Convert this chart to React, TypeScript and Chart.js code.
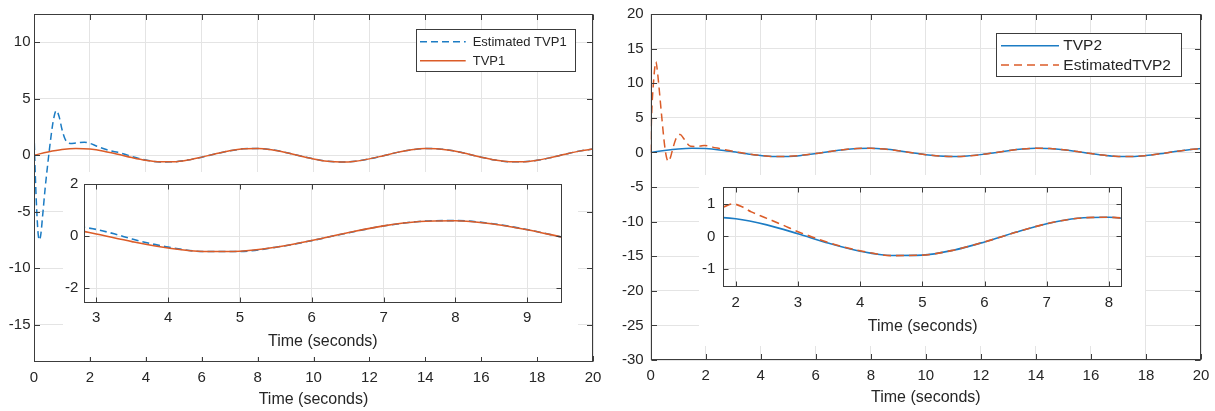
import React, { useEffect, useRef } from 'react';
import { Chart, registerables } from 'chart.js';

Chart.register(...registerables);

// ---------------- data ----------------
const tvpTime = [0, 0.5, 1, 1.5, 2, 2.5, 3, 3.5, 4, 4.5, 5, 5.5, 6, 6.5, 7, 7.5, 8, 8.5, 9, 9.5, 10, 10.5, 11, 11.5, 12, 12.5, 13, 13.5, 14, 14.5, 15, 15.5, 16, 16.5, 17, 17.5, 18, 18.5, 19, 19.5, 20];
const tvp1Values = [0, 0.288, 0.505, 0.598, 0.546, 0.359, 0.085, -0.21, -0.454, -0.587, -0.575, -0.423, -0.168, 0.129, 0.394, 0.563, 0.594, 0.479, 0.247, -0.045, -0.326, -0.528, -0.6, -0.525, -0.322, -0.04, 0.252, 0.482, 0.594, 0.561, 0.39, 0.124, -0.173, -0.427, -0.577, -0.585, -0.451, -0.203, 0.09, 0.363, 0.548];
const tvp2Values = [0, 0.288, 0.505, 0.598, 0.546, 0.359, 0.085, -0.21, -0.454, -0.587, -0.575, -0.423, -0.168, 0.129, 0.394, 0.563, 0.594, 0.479, 0.247, -0.045, -0.326, -0.528, -0.6, -0.525, -0.322, -0.04, 0.252, 0.482, 0.594, 0.561, 0.39, 0.124, -0.173, -0.427, -0.577, -0.585, -0.451, -0.203, 0.09, 0.363, 0.548];

const est1Time = [0, 0.05, 0.1, 0.15, 0.2, 0.25, 0.3, 0.4, 0.5, 0.6, 0.7, 0.8, 0.9, 1.0, 1.1, 1.2, 1.3, 1.5, 1.8, 2.0, 2.25, 2.5, 2.75, 3.0, 3.25, 3.5, 3.75, 4.0, 4.5, 5, 5.5, 6, 6.5, 7, 7.5, 8, 8.5, 9, 9.5, 10, 10.5, 11, 11.5, 12, 12.5, 13, 13.5, 14, 14.5, 15, 15.5, 16, 16.5, 17, 17.5, 18, 18.5, 19, 19.5, 20];
const est1Values = [2.05, -2.0, -5.0, -7.0, -7.5, -6.9, -5.6, -2.9, -0.6, 1.5, 3.2, 3.95, 3.4, 2.3, 1.5, 1.12, 1.04, 1.08, 1.15, 1.05, 0.8, 0.58, 0.38, 0.26, 0.09, -0.11, -0.28, -0.42, -0.59, -0.585, -0.425, -0.17, 0.125, 0.39, 0.565, 0.598, 0.485, 0.25, -0.045, -0.326, -0.528, -0.6, -0.525, -0.322, -0.04, 0.252, 0.482, 0.594, 0.561, 0.39, 0.124, -0.173, -0.427, -0.577, -0.585, -0.451, -0.203, 0.09, 0.363, 0.548];

const est2Time = [0, 0.03, 0.1, 0.19, 0.25, 0.3, 0.4, 0.5, 0.58, 0.64, 0.72, 0.8, 0.9, 1.0, 1.07, 1.2, 1.3, 1.45, 1.6, 1.8, 1.95, 2.1, 2.25, 2.5, 2.75, 3.0, 3.25, 3.5, 3.75, 4.0, 4.5, 5, 5.5, 6, 6.5, 7, 7.5, 8, 8.5, 9, 9.5, 10, 10.5, 11, 11.5, 12, 12.5, 13, 13.5, 14, 14.5, 15, 15.5, 16, 16.5, 17, 17.5, 18, 18.5, 19, 19.5, 20];
const est2Values = [0, 5, 10, 13.1, 11.5, 9.5, 5.2, 1.2, -0.8, -1.3, -0.7, 0.5, 1.8, 2.5, 2.6, 2.0, 1.4, 0.88, 0.86, 0.91, 1.01, 0.92, 0.76, 0.56, 0.36, 0.15, -0.03, -0.19, -0.33, -0.44, -0.59, -0.575, -0.423, -0.168, 0.129, 0.394, 0.563, 0.594, 0.479, 0.247, -0.045, -0.326, -0.528, -0.6, -0.525, -0.322, -0.04, 0.252, 0.482, 0.594, 0.561, 0.39, 0.124, -0.173, -0.427, -0.577, -0.585, -0.451, -0.203, 0.09, 0.363, 0.548];

const mainXTicks = [0, 2, 4, 6, 8, 10, 12, 14, 16, 18, 20];
const leftYTicks = [-15, -10, -5, 0, 5, 10];
const rightYTicks = [-30, -25, -20, -15, -10, -5, 0, 5, 10, 15, 20];
const leftInsetXTicks = [3, 4, 5, 6, 7, 8, 9];
const leftInsetYTicks = [-2, 0, 2];
const rightInsetXTicks = [2, 3, 4, 5, 6, 7, 8];
const rightInsetYTicks = [-1, 0, 1];

const xTitle = 'Time (seconds)';
const label1Est = 'Estimated TVP1';
const label1 = 'TVP1';
const label2 = 'TVP2';
const label2Est = 'EstimatedTVP2';

// ---------------- style ----------------
const BLUE = '#1c7cc4';
const ORANGE = '#db5c28';
const GRID = '#e4e4e4';
const AXIS = '#3c3c3c';
const TXT = '#262626';
const FONT = '"Liberation Sans", Arial, Helvetica, sans-serif';

const pts = (t: number[], v: number[]) => t.map((x, i) => ({ x, y: v[i] }));

const boxPlugin = {
  id: 'matlabBox',
  afterDraw(chart: any, _args: any, o: any) {
    const { ctx, chartArea: a, scales } = chart;
    const len = (o && o.tickLen) || 5;
    const L = Math.round(a.left) + 0.5;
    const R = Math.round(a.right) - 0.5;
    const T = Math.round(a.top) + 0.5;
    const B = Math.round(a.bottom) - 0.5;
    ctx.save();
    ctx.strokeStyle = AXIS;
    ctx.lineWidth = 1;
    ctx.setLineDash([]);
    ctx.beginPath();
    scales.x.ticks.forEach((t: any) => {
      const px = Math.round(scales.x.getPixelForValue(t.value)) + 0.5;
      ctx.moveTo(px, B);
      ctx.lineTo(px, B - len);
      ctx.moveTo(px, T);
      ctx.lineTo(px, T + len);
    });
    scales.y.ticks.forEach((t: any) => {
      const py = Math.round(scales.y.getPixelForValue(t.value)) + 0.5;
      ctx.moveTo(L, py);
      ctx.lineTo(L + len, py);
      ctx.moveTo(R, py);
      ctx.lineTo(R - len, py);
    });
    ctx.stroke();
    ctx.strokeRect(L, T, R - L, B - T);
    ctx.restore();
  },
};

const legendPlugin = {
  id: 'matlabLegend',
  afterDatasetsDraw(chart: any, _args: any, o: any) {
    if (!o || !o.box) return;
    const ctx = chart.ctx;
    const [bx, by, bw, bh] = o.box;
    ctx.save();
    ctx.fillStyle = '#ffffff';
    ctx.fillRect(bx, by, bw, bh);
    ctx.strokeStyle = AXIS;
    ctx.lineWidth = 1;
    ctx.strokeRect(Math.round(bx) + 0.5, Math.round(by) + 0.5, Math.round(bw), Math.round(bh));
    o.rows.forEach((r: any) => {
      const ds = chart.data.datasets[r.ds];
      ctx.beginPath();
      ctx.setLineDash(ds.borderDash || []);
      ctx.strokeStyle = ds.borderColor;
      ctx.lineWidth = ds.borderWidth;
      ctx.moveTo(o.lineX[0], r.y);
      ctx.lineTo(o.lineX[1], r.y);
      ctx.stroke();
      ctx.setLineDash([]);
      ctx.fillStyle = TXT;
      ctx.font = `${o.fontSize}px ${FONT}`;
      ctx.textBaseline = 'middle';
      ctx.textAlign = 'left';
      ctx.fillText(ds.label, o.textX, r.y + 0.5);
    });
    ctx.restore();
  },
};

type PlotProps = {
  x: number; y: number; w: number; h: number;
  area: { left: number; top: number; right: number; bottom: number };
  datasets: any[];
  xr: number[]; yr: number[]; xt: number[]; yt: number[];
  xPad: number; yPad: number; titlePad: number;
  tickSize: number; titleSize: number; tickLen: number;
  legend?: any; bg?: string;
};

function Plot(p: PlotProps) {
  const ref = useRef<HTMLCanvasElement>(null);
  useEffect(() => {
    const chart = new Chart(ref.current as HTMLCanvasElement, {
      type: 'line',
      data: { datasets: p.datasets },
      options: {
        responsive: false,
        animation: false,
        devicePixelRatio: 1,
        layout: { padding: { left: 0, top: p.area.top, right: p.w - p.area.right, bottom: 0 } },
        elements: { point: { radius: 0 } },
        plugins: {
          legend: { display: false },
          tooltip: { enabled: false },
          matlabLegend: p.legend || {},
          matlabBox: { tickLen: p.tickLen },
        } as any,
        scales: {
          x: {
            type: 'linear',
            min: p.xr[0],
            max: p.xr[1],
            afterBuildTicks: (s: any) => { s.ticks = p.xt.map((v) => ({ value: v })); },
            afterFit: (s: any) => { s.height = p.h - p.area.bottom; s.paddingLeft = 0; s.paddingRight = 0; },
            grid: { color: GRID, drawTicks: false, lineWidth: 1 },
            border: { display: false },
            ticks: {
              padding: p.xPad, color: TXT, maxRotation: 0, autoSkip: false,
              font: { family: FONT, size: p.tickSize },
              callback: (v: any) => String(v),
            },
            title: {
              display: true, text: xTitle, color: TXT,
              font: { family: FONT, size: p.titleSize },
              padding: { top: 0, bottom: p.titlePad },
            },
          },
          y: {
            type: 'linear',
            min: p.yr[0],
            max: p.yr[1],
            afterBuildTicks: (s: any) => { s.ticks = p.yt.map((v) => ({ value: v })); },
            afterFit: (s: any) => { s.width = p.area.left; s.paddingTop = 0; s.paddingBottom = 0; },
            grid: { color: GRID, drawTicks: false, lineWidth: 1 },
            border: { display: false },
            ticks: {
              padding: p.yPad, color: TXT, autoSkip: false,
              font: { family: FONT, size: p.tickSize },
              callback: (v: any) => String(v),
            },
          },
        },
      } as any,
      plugins: [legendPlugin, boxPlugin] as any,
    });
    return () => chart.destroy();
  }, []);
  return (
    <div style={{ position: 'absolute', left: p.x, top: p.y, width: p.w, height: p.h, background: p.bg || 'transparent' }}>
      <canvas ref={ref} width={p.w} height={p.h} style={{ display: 'block', width: p.w, height: p.h }} />
    </div>
  );
}

function leftDatasets(width: number) {
  return [
    { label: label1Est, data: pts(est1Time, est1Values), borderColor: BLUE, borderWidth: width, borderDash: [7, 4], cubicInterpolationMode: 'monotone', order: 1, fill: false },
    { label: label1, data: pts(tvpTime, tvp1Values), borderColor: ORANGE, borderWidth: width, cubicInterpolationMode: 'monotone', order: 0, fill: false },
  ];
}

function rightDatasets(width: number) {
  return [
    { label: label2, data: pts(tvpTime, tvp2Values), borderColor: BLUE, borderWidth: width, cubicInterpolationMode: 'monotone', order: 1, fill: false },
    { label: label2Est, data: pts(est2Time, est2Values), borderColor: ORANGE, borderWidth: width, borderDash: [8, 5], cubicInterpolationMode: 'monotone', order: 0, fill: false },
  ];
}

export default function App() {
  return (
    <div style={{ position: 'fixed', left: 0, top: 0, width: 1215, height: 411, background: '#ffffff', overflow: 'hidden' }}>
      <Plot
        x={0} y={0} w={605} h={411}
        area={{ left: 34, top: 14, right: 593, bottom: 362 }}
        datasets={leftDatasets(1.5)}
        xr={[0, 20]} yr={[-18.3, 12.5]} xt={mainXTicks} yt={leftYTicks}
        xPad={7} yPad={3.5} titlePad={1.4} tickSize={15} titleSize={16} tickLen={5.5}
        legend={{ box: [415.7, 29.3, 159.3, 42.4], rows: [{ ds: 0, y: 41.7 }, { ds: 1, y: 60.7 }], lineX: [420, 465.7], textX: 472.7, fontSize: 13 }}
      />
      <Plot
        x={605} y={0} w={610} h={411}
        area={{ left: 45.7, top: 14, right: 596, bottom: 360 }}
        datasets={rightDatasets(1.5)}
        xr={[0, 20]} yr={[-30, 20]} xt={mainXTicks} yt={rightYTicks}
        xPad={7} yPad={7} titlePad={3.4} tickSize={15} titleSize={16} tickLen={5.5}
        legend={{ box: [390.7, 32.7, 185, 43.3], rows: [{ ds: 0, y: 45.7 }, { ds: 1, y: 65 }], lineX: [396, 454], textX: 458.3, fontSize: 15.5 }}
      />
      <Plot
        x={63} y={172} w={515} h={185} bg="#ffffff"
        area={{ left: 21, top: 12, right: 498.7, bottom: 130.7 }}
        datasets={leftDatasets(1.6)}
        xr={[2.83, 9.48]} yr={[-2.55, 2]} xt={leftInsetXTicks} yt={leftInsetYTicks}
        xPad={6.3} yPad={5.7} titlePad={5.9} tickSize={15} titleSize={16} tickLen={5}
      />
      <Plot
        x={699} y={175} w={446} h={171} bg="#ffffff"
        area={{ left: 24.3, top: 12.3, right: 423, bottom: 112.3 }}
        datasets={rightDatasets(1.6)}
        xr={[1.8, 8.21]} yr={[-1.57, 1.52]} xt={rightInsetXTicks} yt={rightInsetYTicks}
        xPad={6.7} yPad={8} titlePad={9.9} tickSize={15} titleSize={16} tickLen={5}
      />
    </div>
  );
}
